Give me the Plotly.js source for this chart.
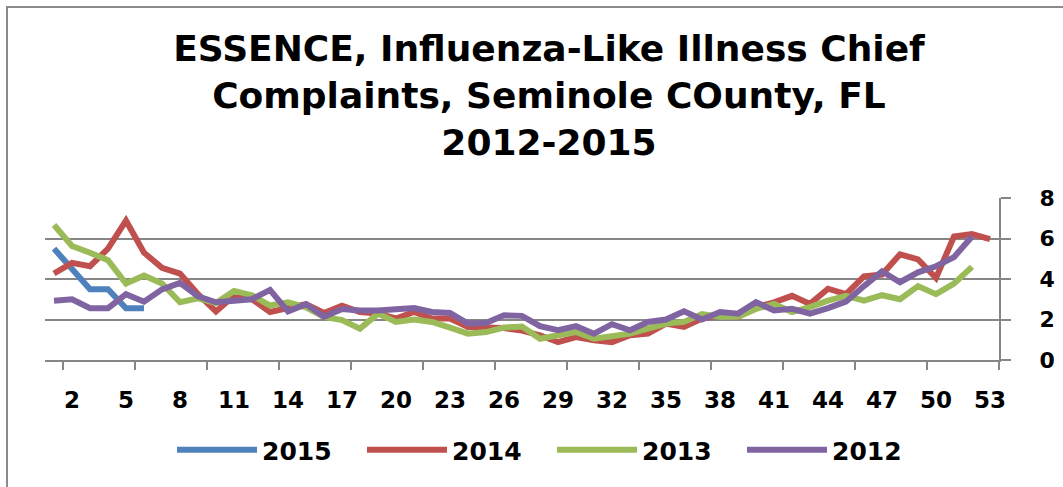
<!DOCTYPE html>
<html>
<head>
<meta charset="utf-8">
<script src="https://cdn.plot.ly/plotly-3.0.1.min.js"></script>
<style>
  html, body { margin: 0; padding: 0; background: #ffffff; }
  #wrap { position: relative; width: 1063px; height: 487px; overflow: hidden; }
  #frame { position: absolute; left: 6px; top: 6px; width: 1100px; height: 600px;
           border-left: 2px solid #8a8a8a; border-top: 2px solid #8a8a8a; }
  #chart { position: absolute; left: 0; top: 0; width: 1063px; height: 487px; }
</style>
</head>
<body>
<div id="wrap"><div id="frame"></div><div id="chart"></div></div>
<script>
// Week numbers (categories)
const weeks = Array.from({length: 53}, (_, i) => i + 1);
const tickLabels = [2, 5, 8, 11, 14, 17, 20, 23, 26, 29, 32, 35, 38, 41, 44, 47, 50, 53];

// Series values
const y2015 = [5.5, 4.55, 3.5, 3.5, 2.55, 2.55];
const y2014 = [4.27, 4.8, 4.63, 5.5, 6.88, 5.3, 4.55, 4.27, 3.25, 2.4,
               3.17, 3.0, 2.37, 2.55, 2.76, 2.32, 2.68, 2.37, 2.29, 2.05,
               2.37, 2.05, 2.05, 1.63, 1.6, 1.58, 1.45, 1.22, 0.88, 1.13,
               0.97, 0.88, 1.22, 1.3, 1.8, 1.63, 2.05, 2.21, 2.13, 2.6,
               2.85, 3.17, 2.77, 3.52, 3.25, 4.13, 4.22, 5.22, 4.97, 4.05,
               6.1, 6.22, 5.97];
const y2013 = [6.67, 5.63, 5.3, 4.93, 3.78, 4.17, 3.78, 2.85, 3.04, 2.82,
               3.41, 3.2, 2.69, 2.85, 2.6, 2.13, 1.97, 1.55, 2.29, 1.88,
               2.0, 1.88, 1.6, 1.3, 1.38, 1.6, 1.65, 1.05, 1.22, 1.38,
               1.05, 1.17, 1.3, 1.55, 1.8, 1.88, 2.27, 2.13, 2.13, 2.52,
               2.77, 2.37, 2.61, 2.93, 3.17, 2.93, 3.2, 3.0, 3.65, 3.25,
               3.78, 4.6];
const y2012 = [2.93, 3.0, 2.56, 2.56, 3.25, 2.88, 3.49, 3.81, 3.14, 2.85,
               2.93, 3.0, 3.46, 2.4, 2.76, 2.13, 2.52, 2.44, 2.44, 2.52,
               2.57, 2.37, 2.32, 1.8, 1.83, 2.21, 2.18, 1.67, 1.47, 1.67,
               1.3, 1.77, 1.47, 1.88, 2.0, 2.41, 2.0, 2.37, 2.29, 2.86,
               2.45, 2.53, 2.29, 2.56, 2.88, 3.65, 4.38, 3.84, 4.33, 4.63,
               5.08, 6.1];

const seriesNames = ['2015', '2014', '2013', '2012'];
const seriesData = [y2015, y2014, y2013, y2012];
const seriesColors = ['#4F81BD', '#C0504D', '#9BBB59', '#8064A2'];

const FONT = 'DejaVu Sans, Verdana, sans-serif';
const GRID = '#868686';

const traces = seriesNames.map((name, i) => ({
  type: 'scatter',
  mode: 'lines',
  name: name,
  x: weeks.slice(0, seriesData[i].length),
  y: seriesData[i],
  line: {color: seriesColors[i], width: 6},
  hoverinfo: 'x+y+name'
}));

const layout = {
  width: 1063,
  height: 487,
  margin: {l: 45, r: 64, t: 198, b: 127, pad: 0},
  paper_bgcolor: 'rgba(0,0,0,0)',
  plot_bgcolor: 'rgba(0,0,0,0)',
  font: {family: FONT, color: '#000000', weight: 'bold'},
  title: {
    text: 'ESSENCE, Influenza-Like Illness Chief<br>Complaints, Seminole COunty, FL<br>2012-2015',
    font: {family: FONT, size: 36, color: '#000000', weight: 'bold'},
    xref: 'container', yref: 'container',
    x: 549 / 1063, xanchor: 'center',
    y: 1 - 61 / 487, yanchor: 'top'
  },
  xaxis: {
    range: [0.5, 53.5],
    tickmode: 'array',
    tickvals: tickLabels,
    ticktext: tickLabels.map(String),
    ticks: '',
    showgrid: false,
    zeroline: false,
    showline: true,
    linecolor: GRID,
    linewidth: 2,
    ticklabelstandoff: 18,
    tickfont: {family: FONT, size: 23, color: '#000000', weight: 'bold'},
    minor: {
      tick0: 1.5,
      dtick: 4,
      ticks: 'outside',
      ticklen: 8,
      tickwidth: 2,
      tickcolor: GRID,
      showgrid: false
    },
    fixedrange: true
  },
  yaxis: {
    side: 'right',
    range: [0, 8],
    dtick: 2,
    tick0: 0,
    showgrid: true,
    gridcolor: GRID,
    gridwidth: 2,
    zeroline: false,
    showline: true,
    linecolor: GRID,
    linewidth: 2,
    ticks: 'outside',
    ticklen: 10,
    tickwidth: 2,
    tickcolor: GRID,
    ticklabelstandoff: 24,
    tickfont: {family: FONT, size: 22, color: '#000000', weight: 'bold'},
    fixedrange: true
  },
  showlegend: true,
  legend: {
    orientation: 'h',
    xref: 'container', yref: 'container',
    x: 172 / 1063, xanchor: 'left',
    y: 1 - 450 / 487, yanchor: 'middle',
    itemwidth: 80,
    entrywidth: 95,
    font: {family: FONT, size: 25, color: '#000000', weight: 'bold'},
    bgcolor: 'rgba(0,0,0,0)',
    traceorder: 'normal'
  }
};

Plotly.newPlot('chart', traces, layout, {displayModeBar: false, staticPlot: true});
</script>
</body>
</html>
